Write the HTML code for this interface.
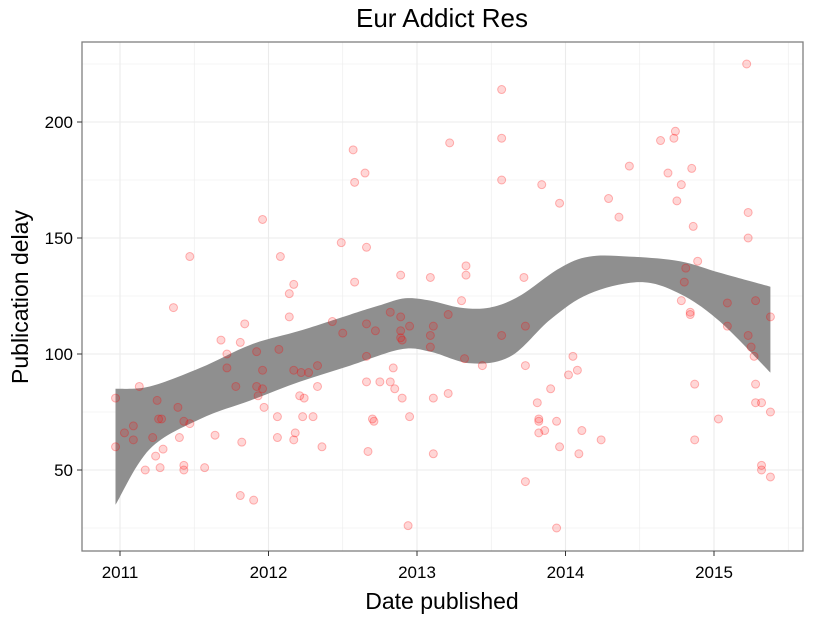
<!DOCTYPE html>
<html><head><meta charset="utf-8"><style>
body{margin:0;background:#fff;font-family:"Liberation Sans",sans-serif}
</style></head><body>
<svg id="chart" width="825" height="618" xmlns="http://www.w3.org/2000/svg" font-family="Liberation Sans, sans-serif">
<text x="442" y="27" text-anchor="middle" font-size="26">Eur Addict Res</text>
<g id="grid"></g>
<g id="band"></g>
<g id="pts"></g>
<rect x="82" y="42" width="721" height="509" fill="none" stroke="#7f7f7f" stroke-width="1.3"/>
<g id="axes"></g>
<text x="442" y="609" text-anchor="middle" font-size="23">Date published</text>
<text transform="translate(28,297) rotate(-90)" text-anchor="middle" font-size="23">Publication delay</text>
</svg>
<script>
const xTicks=[2011,2012,2013,2014,2015];
const yTicks=[50,100,150,200];
const px=[2010.97,2010.97,2011.03,2011.09,2011.09,2011.13,2011.17,2011.22,2011.24,2011.25,2011.26,2011.27,2011.28,2011.29,2011.36,2011.39,2011.40,2011.43,2011.43,2011.43,2011.47,2011.47,2011.57,2011.64,2011.68,2011.72,2011.72,2011.78,2011.81,2011.81,2011.82,2011.84,2011.90,2011.92,2011.92,2011.93,2011.96,2011.96,2011.97,2011.96,2012.06,2012.06,2012.07,2012.08,2012.14,2012.14,2012.17,2012.17,2012.17,2012.18,2012.21,2012.22,2012.24,2012.23,2012.27,2012.30,2012.33,2012.33,2012.36,2012.43,2012.49,2012.50,2012.57,2012.58,2012.58,2012.65,2012.66,2012.66,2012.66,2012.66,2012.67,2012.70,2012.71,2012.72,2012.75,2012.82,2012.82,2012.84,2012.85,2012.89,2012.89,2012.89,2012.89,2012.90,2012.90,2012.95,2012.95,2012.94,2013.09,2013.09,2013.09,2013.11,2013.11,2013.11,2013.21,2013.21,2013.22,2013.30,2013.33,2013.33,2013.32,2013.44,2013.57,2013.57,2013.57,2013.57,2013.72,2013.73,2013.73,2013.73,2013.84,2013.81,2013.82,2013.82,2013.82,2013.86,2013.90,2013.94,2013.94,2013.96,2013.96,2014.02,2014.05,2014.08,2014.09,2014.11,2014.24,2014.29,2014.36,2014.43,2014.64,2014.69,2014.73,2014.74,2014.75,2014.78,2014.78,2014.81,2014.80,2014.84,2014.84,2014.85,2014.86,2014.89,2014.87,2014.87,2015.03,2015.09,2015.09,2015.22,2015.23,2015.23,2015.23,2015.25,2015.27,2015.28,2015.28,2015.28,2015.32,2015.32,2015.32,2015.38,2015.38,2015.38];
const py=[81,60,66,69,63,86,50,64,56,80,72,51,72,59,120,77,64,71,52,50,70,142,51,65,106,100,94,86,105,39,62,113,37,101,86,82,85,158,77,93,73,64,102,142,126,116,130,93,63,66,82,92,81,73,92,73,95,86,60,114,148,109,188,131,174,178,146,113,99,88,58,72,71,110,88,118,88,94,85,134,116,110,107,81,106,112,73,26,133,108,103,112,81,57,117,83,191,123,134,138,98,95,214,175,193,108,133,112,95,45,173,79,72,71,66,67,85,71,25,60,165,91,99,93,57,67,63,167,159,181,192,178,193,196,166,173,123,137,131,118,117,180,155,140,87,63,72,122,112,225,161,150,108,103,99,87,79,123,79,52,50,116,75,47];
const upX=[2010.97,2011.20,2011.54,2011.88,2012.21,2012.55,2012.75,2012.92,2013.09,2013.29,2013.49,2013.69,2013.96,2014.16,2014.43,2014.77,2015.04,2015.38];
const upY=[85,86,94,104,110,117,121,124,123,120,120,125,137,142,142,140,135,129];
const loX=[2010.97,2011.20,2011.54,2011.88,2012.21,2012.55,2012.89,2013.09,2013.36,2013.63,2013.90,2014.16,2014.50,2014.77,2015.04,2015.38];
const loY=[35,59,72,80,88,95,102,101,96,99,115,126,131,126,114,92];
const X=v=>120+(v-2011)*148.5, Y=v=>586-v*2.32;
const NS='http://www.w3.org/2000/svg';
function mk(t,a,p){const e=document.createElementNS(NS,t);for(const k in a)e.setAttribute(k,a[k]);p.appendChild(e);return e;}
const g=document.getElementById('grid');
mk('rect',{x:82,y:42,width:721,height:509,fill:'#fff'},g);
for(let v=25;v<=225;v+=25){const l=mk('line',{x1:82,x2:803,y1:Y(v),y2:Y(v),stroke:'#ebebeb','stroke-width':v%50?0.6:1.1},g);

}
for(let v=2010.5;v<=2015.5;v+=0.5){if(X(v)<82||X(v)>803)continue;const l=mk('line',{y1:42,y2:551,x1:X(v),x2:X(v),stroke:'#ebebeb','stroke-width':v%1?0.6:1.1},g);

}
function curve(pts,start){let d=start?'M'+pts[0][0].toFixed(1)+','+pts[0][1].toFixed(1):'L'+pts[0][0].toFixed(1)+','+pts[0][1].toFixed(1);
for(let i=0;i<pts.length-1;i++){const p0=pts[Math.max(0,i-1)],p1=pts[i],p2=pts[i+1],p3=pts[Math.min(pts.length-1,i+2)];
const c1=[p1[0]+(p2[0]-p0[0])/6,p1[1]+(p2[1]-p0[1])/6],c2=[p2[0]-(p3[0]-p1[0])/6,p2[1]-(p3[1]-p1[1])/6];
d+='C'+c1[0].toFixed(1)+','+c1[1].toFixed(1)+' '+c2[0].toFixed(1)+','+c2[1].toFixed(1)+' '+p2[0].toFixed(1)+','+p2[1].toFixed(1);}
return d;}
const up=upX.map((x,i)=>[X(x),Y(upY[i])]);
const lo=loX.map((x,i)=>[X(x),Y(loY[i])]).reverse();
const b=mk('path',{d:curve(up,true)+curve(lo,false)+'Z',fill:'#8f8f8f'},document.getElementById('band'));


const pg=document.getElementById('pts');
for(let i=0;i<px.length;i++){const c=mk('circle',{cx:X(px[i]),cy:Y(py[i]),r:4,fill:'rgba(255,0,0,0.16)',stroke:'rgba(255,0,0,0.28)','stroke-width':1},pg);

}
const ax=document.getElementById('axes');
xTicks.forEach(v=>{mk('line',{x1:X(v),x2:X(v),y1:551,y2:556,stroke:'#333'},ax);
const t=mk('text',{x:X(v),y:578,'text-anchor':'middle','font-size':17},ax);t.textContent=v;

});
yTicks.forEach(v=>{mk('line',{x1:77,x2:82,y1:Y(v),y2:Y(v),stroke:'#333'},ax);
const t=mk('text',{x:73,y:Y(v)+6,'text-anchor':'end','font-size':17},ax);t.textContent=v;

});
</script>
</body></html>
